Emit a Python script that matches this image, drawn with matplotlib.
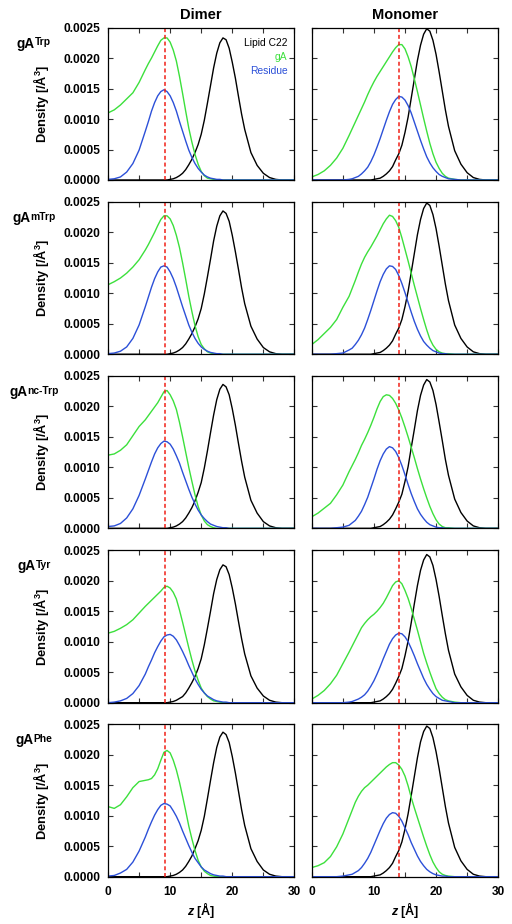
import matplotlib
matplotlib.use("Agg")
import matplotlib.pyplot as plt
from matplotlib.ticker import MultipleLocator, FuncFormatter

plt.rcParams['font.family'] = ['Liberation Sans', 'DejaVu Sans']
plt.rcParams['font.weight'] = 'bold'
plt.rcParams['axes.labelweight'] = 'bold'
plt.rcParams['mathtext.fontset'] = 'custom'
plt.rcParams['mathtext.rm'] = 'Liberation Sans:bold'
plt.rcParams['mathtext.bf'] = 'Liberation Sans:bold'
plt.rcParams['mathtext.it'] = 'Liberation Sans:italic:bold'

# z grid in Angstrom (finer where the peaks are)
z = [0, 1, 2, 3, 4, 5, 6,
     6.5, 7, 7.5, 8, 8.5, 9, 9.5, 10, 10.5, 11, 11.5, 12, 12.5, 13, 13.5, 14,
     14.5, 15, 15.5, 16, 16.5, 17, 17.5, 18, 18.5, 19, 19.5, 20, 20.5, 21, 21.5, 22,
     23, 24, 25, 26, 27, 28, 29, 30]

variants = ['Trp', 'mTrp', 'nc-Trp', 'Tyr', 'Phe']
dimer_cut = 9.2
monomer_cut = 14.1

# ---- Dimer: lipid C22 density
trp_dim_lipid = [0, 0, 0, 0, 0, 0, 0,
                 0, 0, 0, 0, 0, 0, 0, 0.00001, 0.00002, 0.00004, 0.00007, 0.00011, 0.00017, 0.00025, 0.00034, 0.00045,
                 0.00058, 0.00075, 0.00098, 0.00126, 0.00155, 0.00184, 0.00208, 0.00225, 0.00233, 0.00230, 0.00216, 0.00193, 0.00167, 0.00137, 0.00108, 0.00083,
                 0.00045, 0.00024, 0.00011, 0.00004, 0.00001, 0, 0, 0]
mtrp_dim_lipid = [0, 0, 0, 0, 0, 0, 0,
                  0, 0, 0, 0, 0, 0, 0, 0.00001, 0.00002, 0.00004, 0.00007, 0.00011, 0.00017, 0.00025, 0.00034, 0.00045,
                  0.00058, 0.00075, 0.00099, 0.00127, 0.00156, 0.00186, 0.00210, 0.00227, 0.00235, 0.00231, 0.00218, 0.00195, 0.00168, 0.00139, 0.00109, 0.00083,
                  0.00046, 0.00025, 0.00011, 0.00004, 0.00001, 0, 0, 0]
nctrp_dim_lipid = [0, 0, 0, 0, 0, 0, 0,
                   0, 0, 0, 0, 0, 0, 0, 0.00001, 0.00002, 0.00004, 0.00007, 0.00011, 0.00017, 0.00025, 0.00034, 0.00045,
                   0.00059, 0.00075, 0.00099, 0.00127, 0.00157, 0.00186, 0.00211, 0.00228, 0.00236, 0.00232, 0.00219, 0.00196, 0.00169, 0.00139, 0.00110, 0.00084,
                   0.00046, 0.00025, 0.00011, 0.00004, 0.00001, 0, 0, 0]
tyr_dim_lipid = [0, 0, 0, 0, 0, 0, 0,
                 0, 0, 0, 0, 0, 0, 0, 0.00001, 0.00002, 0.00004, 0.00007, 0.00010, 0.00016, 0.00024, 0.00033, 0.00043,
                 0.00056, 0.00072, 0.00095, 0.00122, 0.00150, 0.00179, 0.00202, 0.00218, 0.00226, 0.00223, 0.00210, 0.00188, 0.00162, 0.00133, 0.00105, 0.00080,
                 0.00044, 0.00024, 0.00011, 0.00004, 0.00001, 0, 0, 0]
phe_dim_lipid = [0, 0, 0, 0, 0, 0, 0,
                 0, 0, 0, 0, 0, 0, 0, 0.00001, 0.00002, 0.00004, 0.00007, 0.00011, 0.00017, 0.00025, 0.00034, 0.00046,
                 0.00059, 0.00076, 0.00099, 0.00128, 0.00158, 0.00187, 0.00212, 0.00229, 0.00237, 0.00233, 0.00220, 0.00197, 0.00170, 0.00140, 0.00110, 0.00084,
                 0.00046, 0.00025, 0.00011, 0.00004, 0.00001, 0, 0, 0]

# ---- Dimer: gA density
trp_dim_ga = [0.00110, 0.00115, 0.00123, 0.00133, 0.00143, 0.00160, 0.00181,
              0.00191, 0.00200, 0.00210, 0.00220, 0.00229, 0.00233, 0.00233, 0.00226, 0.00213, 0.00195, 0.00170, 0.00142, 0.00113, 0.00085, 0.00062, 0.00042,
              0.00026, 0.00014, 0.00007, 0.00003, 0.00002, 0.00001, 0, 0, 0, 0, 0, 0, 0, 0, 0, 0,
              0, 0, 0, 0, 0, 0, 0, 0]
mtrp_dim_ga = [0.00114, 0.00119, 0.00125, 0.00133, 0.00143, 0.00155, 0.00171,
               0.00180, 0.00190, 0.00200, 0.00211, 0.00221, 0.00227, 0.00227, 0.00222, 0.00211, 0.00195, 0.00175, 0.00150, 0.00123, 0.00095, 0.00070, 0.00047,
               0.00029, 0.00016, 0.00009, 0.00004, 0.00002, 0.00001, 0, 0, 0, 0, 0, 0, 0, 0, 0, 0,
               0, 0, 0, 0, 0, 0, 0, 0]
nctrp_dim_ga = [0.00120, 0.00122, 0.00128, 0.00137, 0.00152, 0.00167, 0.00178,
                0.00185, 0.00192, 0.00199, 0.00206, 0.00215, 0.00224, 0.00226, 0.00219, 0.00209, 0.00195, 0.00174, 0.00150, 0.00125, 0.00100, 0.00077, 0.00055,
                0.00036, 0.00022, 0.00012, 0.00006, 0.00003, 0.00001, 0, 0, 0, 0, 0, 0, 0, 0, 0, 0,
                0, 0, 0, 0, 0, 0, 0, 0]
tyr_dim_ga = [0.00114, 0.00117, 0.00122, 0.00128, 0.00136, 0.00147, 0.00158,
              0.00163, 0.00168, 0.00173, 0.00178, 0.00183, 0.00189, 0.00191, 0.00188, 0.00181, 0.00170, 0.00152, 0.00132, 0.00111, 0.00090, 0.00070, 0.00052,
              0.00037, 0.00024, 0.00016, 0.00010, 0.00006, 0.00003, 0.00002, 0.00001, 0, 0, 0, 0, 0, 0, 0, 0,
              0, 0, 0, 0, 0, 0, 0, 0]
phe_dim_ga = [0.00115, 0.00112, 0.00118, 0.00131, 0.00146, 0.00156, 0.00158,
              0.00159, 0.00161, 0.00167, 0.00177, 0.00191, 0.00204, 0.00207, 0.00203, 0.00191, 0.00175, 0.00155, 0.00132, 0.00108, 0.00083, 0.00062, 0.00043,
              0.00027, 0.00016, 0.00009, 0.00005, 0.00002, 0.00001, 0, 0, 0, 0, 0, 0, 0, 0, 0, 0,
              0, 0, 0, 0, 0, 0, 0, 0]

# ---- Dimer: residue density
trp_dim_res = [0.00001, 0.00002, 0.00005, 0.00013, 0.00027, 0.00049, 0.00080,
               0.00096, 0.00113, 0.00127, 0.00138, 0.00145, 0.00148, 0.00145, 0.00138, 0.00127, 0.00113, 0.00096, 0.00080, 0.00064, 0.00049, 0.00037, 0.00027,
               0.00019, 0.00013, 0.00008, 0.00005, 0.00003, 0.00002, 0.00001, 0.00001, 0, 0, 0, 0, 0, 0, 0, 0,
               0, 0, 0, 0, 0, 0, 0, 0]
mtrp_dim_res = [0.00001, 0.00002, 0.00005, 0.00012, 0.00026, 0.00048, 0.00078,
                0.00094, 0.00110, 0.00124, 0.00135, 0.00143, 0.00145, 0.00143, 0.00135, 0.00124, 0.00110, 0.00094, 0.00078, 0.00063, 0.00048, 0.00036, 0.00026,
                0.00018, 0.00012, 0.00008, 0.00005, 0.00003, 0.00002, 0.00001, 0.00001, 0, 0, 0, 0, 0, 0, 0, 0,
                0, 0, 0, 0, 0, 0, 0, 0]
nctrp_dim_res = [0.00003, 0.00004, 0.00008, 0.00017, 0.00032, 0.00054, 0.00081,
                 0.00095, 0.00109, 0.00122, 0.00132, 0.00139, 0.00143, 0.00142, 0.00138, 0.00130, 0.00119, 0.00107, 0.00092, 0.00078, 0.00064, 0.00051, 0.00040,
                 0.00030, 0.00022, 0.00016, 0.00011, 0.00007, 0.00005, 0.00003, 0.00002, 0.00001, 0.00001, 0, 0, 0, 0, 0, 0,
                 0, 0, 0, 0, 0, 0, 0, 0]
tyr_dim_res = [0, 0.00001, 0.00003, 0.00007, 0.00015, 0.00028, 0.00047,
               0.00059, 0.00070, 0.00082, 0.00092, 0.00101, 0.00108, 0.00111, 0.00112, 0.00109, 0.00103, 0.00094, 0.00084, 0.00073, 0.00061, 0.00050, 0.00039,
               0.00030, 0.00022, 0.00016, 0.00011, 0.00008, 0.00005, 0.00003, 0.00002, 0.00001, 0.00001, 0, 0, 0, 0, 0, 0,
               0, 0, 0, 0, 0, 0, 0, 0]
phe_dim_res = [0.00001, 0.00002, 0.00006, 0.00012, 0.00024, 0.00042, 0.00065,
               0.00078, 0.00090, 0.00101, 0.00110, 0.00117, 0.00120, 0.00119, 0.00116, 0.00108, 0.00099, 0.00088, 0.00075, 0.00063, 0.00051, 0.00040, 0.00030,
               0.00023, 0.00016, 0.00011, 0.00008, 0.00005, 0.00003, 0.00002, 0.00001, 0.00001, 0, 0, 0, 0, 0, 0, 0,
               0, 0, 0, 0, 0, 0, 0, 0]

# ---- Monomer: lipid C22 density
trp_mon_lipid = [0, 0, 0, 0, 0, 0, 0,
                 0, 0, 0, 0, 0, 0, 0, 0.00001, 0.00002, 0.00003, 0.00006, 0.00010, 0.00015, 0.00022, 0.00033, 0.00043,
                 0.00057, 0.00078, 0.00103, 0.00134, 0.00165, 0.00196, 0.00221, 0.00239, 0.00248, 0.00244, 0.00229, 0.00206, 0.00177, 0.00146, 0.00115, 0.00088,
                 0.00048, 0.00026, 0.00012, 0.00004, 0.00001, 0, 0, 0]
mtrp_mon_lipid = [0, 0, 0, 0, 0, 0, 0,
                  0, 0, 0, 0, 0, 0, 0, 0.00001, 0.00002, 0.00003, 0.00006, 0.00010, 0.00015, 0.00022, 0.00033, 0.00043,
                  0.00057, 0.00078, 0.00103, 0.00134, 0.00165, 0.00196, 0.00221, 0.00239, 0.00248, 0.00244, 0.00229, 0.00206, 0.00177, 0.00146, 0.00115, 0.00088,
                  0.00048, 0.00026, 0.00012, 0.00004, 0.00001, 0, 0, 0]
nctrp_mon_lipid = [0, 0, 0, 0, 0, 0, 0,
                   0, 0, 0, 0, 0, 0, 0, 0.00001, 0.00002, 0.00003, 0.00006, 0.00010, 0.00015, 0.00022, 0.00032, 0.00043,
                   0.00056, 0.00077, 0.00101, 0.00132, 0.00162, 0.00193, 0.00218, 0.00235, 0.00244, 0.00240, 0.00226, 0.00203, 0.00174, 0.00144, 0.00113, 0.00087,
                   0.00048, 0.00026, 0.00012, 0.00004, 0.00001, 0, 0, 0]
tyr_mon_lipid = [0, 0, 0, 0, 0, 0, 0,
                 0, 0, 0, 0, 0, 0, 0, 0.00001, 0.00002, 0.00003, 0.00006, 0.00010, 0.00015, 0.00022, 0.00032, 0.00043,
                 0.00056, 0.00077, 0.00101, 0.00131, 0.00162, 0.00192, 0.00217, 0.00234, 0.00243, 0.00239, 0.00225, 0.00202, 0.00174, 0.00143, 0.00113, 0.00086,
                 0.00047, 0.00026, 0.00012, 0.00004, 0.00001, 0, 0, 0]
phe_mon_lipid = [0, 0, 0, 0, 0, 0, 0,
                 0, 0, 0, 0, 0, 0, 0, 0.00001, 0.00002, 0.00003, 0.00006, 0.00010, 0.00015, 0.00022, 0.00033, 0.00043,
                 0.00057, 0.00078, 0.00103, 0.00133, 0.00164, 0.00195, 0.00221, 0.00238, 0.00247, 0.00243, 0.00228, 0.00205, 0.00177, 0.00146, 0.00115, 0.00088,
                 0.00048, 0.00026, 0.00012, 0.00004, 0.00001, 0, 0, 0]

# ---- Monomer: gA density
trp_mon_ga = [0.00005, 0.00009, 0.00015, 0.00024, 0.00036, 0.00052, 0.00073,
              0.00084, 0.00095, 0.00106, 0.00117, 0.00128, 0.00140, 0.00151, 0.00161, 0.00170, 0.00178, 0.00186, 0.00194, 0.00202, 0.00210, 0.00217, 0.00222,
              0.00222, 0.00215, 0.00202, 0.00186, 0.00166, 0.00145, 0.00123, 0.00101, 0.00080, 0.00060, 0.00043, 0.00029, 0.00019, 0.00011, 0.00006, 0.00003,
              0.00001, 0, 0, 0, 0, 0, 0, 0]
mtrp_mon_ga = [0.00016, 0.00024, 0.00034, 0.00044, 0.00057, 0.00077, 0.00095,
               0.00108, 0.00121, 0.00135, 0.00148, 0.00159, 0.00168, 0.00176, 0.00185, 0.00194, 0.00204, 0.00214, 0.00222, 0.00228, 0.00226, 0.00219, 0.00208,
               0.00191, 0.00172, 0.00153, 0.00133, 0.00113, 0.00094, 0.00075, 0.00057, 0.00040, 0.00025, 0.00015, 0.00008, 0.00004, 0.00002, 0.00001, 0.00001,
               0, 0, 0, 0, 0, 0, 0, 0]
nctrp_mon_ga = [0.00019, 0.00025, 0.00033, 0.00041, 0.00055, 0.00071, 0.00093,
                0.00103, 0.00113, 0.00124, 0.00136, 0.00146, 0.00157, 0.00169, 0.00182, 0.00196, 0.00208, 0.00216, 0.00219, 0.00218, 0.00213, 0.00205, 0.00194,
                0.00181, 0.00166, 0.00150, 0.00133, 0.00116, 0.00098, 0.00081, 0.00065, 0.00050, 0.00036, 0.00024, 0.00014, 0.00007, 0.00003, 0.00001, 0.00001,
                0, 0, 0, 0, 0, 0, 0, 0]
tyr_mon_ga = [0.00006, 0.00012, 0.00020, 0.00031, 0.00045, 0.00064, 0.00083,
              0.00093, 0.00103, 0.00113, 0.00123, 0.00130, 0.00136, 0.00141, 0.00145, 0.00150, 0.00156, 0.00163, 0.00172, 0.00182, 0.00192, 0.00198, 0.00200,
              0.00195, 0.00184, 0.00171, 0.00155, 0.00137, 0.00119, 0.00100, 0.00081, 0.00065, 0.00050, 0.00036, 0.00023, 0.00015, 0.00009, 0.00005, 0.00003,
              0.00001, 0, 0, 0, 0, 0, 0, 0]
phe_mon_ga = [0.00015, 0.00018, 0.00023, 0.00033, 0.00049, 0.00070, 0.00096,
              0.00109, 0.00122, 0.00132, 0.00140, 0.00146, 0.00150, 0.00155, 0.00160, 0.00165, 0.00170, 0.00175, 0.00180, 0.00184, 0.00187, 0.00187, 0.00183,
              0.00176, 0.00165, 0.00149, 0.00130, 0.00113, 0.00097, 0.00081, 0.00065, 0.00050, 0.00036, 0.00024, 0.00015, 0.00008, 0.00004, 0.00002, 0.00001,
              0, 0, 0, 0, 0, 0, 0, 0]

# ---- Monomer: residue density
trp_mon_res = [0, 0, 0, 0, 0, 0, 0.00001,
               0.00002, 0.00004, 0.00006, 0.00010, 0.00015, 0.00021, 0.00030, 0.00041, 0.00054, 0.00068, 0.00083, 0.00098, 0.00112, 0.00124, 0.00132, 0.00137,
               0.00136, 0.00131, 0.00122, 0.00110, 0.00095, 0.00080, 0.00065, 0.00051, 0.00038, 0.00028, 0.00020, 0.00014, 0.00009, 0.00006, 0.00004, 0.00002,
               0.00001, 0, 0, 0, 0, 0, 0, 0]
mtrp_mon_res = [0, 0, 0, 0, 0.00001, 0.00002, 0.00007,
                0.00010, 0.00016, 0.00023, 0.00032, 0.00043, 0.00057, 0.00072, 0.00088, 0.00104, 0.00119, 0.00131, 0.00140, 0.00145, 0.00144, 0.00139, 0.00129,
                0.00116, 0.00101, 0.00085, 0.00069, 0.00054, 0.00041, 0.00030, 0.00021, 0.00015, 0.00010, 0.00006, 0.00004, 0.00002, 0.00001, 0.00001, 0,
                0, 0, 0, 0, 0, 0, 0, 0]
nctrp_mon_res = [0, 0, 0, 0, 0.00001, 0.00002, 0.00005,
                 0.00009, 0.00013, 0.00020, 0.00028, 0.00039, 0.00051, 0.00066, 0.00081, 0.00097, 0.00111, 0.00122, 0.00130, 0.00134, 0.00132, 0.00126, 0.00116,
                 0.00103, 0.00088, 0.00072, 0.00057, 0.00044, 0.00032, 0.00023, 0.00016, 0.00010, 0.00006, 0.00004, 0.00002, 0.00001, 0.00001, 0, 0,
                 0, 0, 0, 0, 0, 0, 0, 0]
tyr_mon_res = [0, 0, 0, 0, 0, 0, 0.00001,
               0.00002, 0.00004, 0.00006, 0.00009, 0.00013, 0.00019, 0.00027, 0.00036, 0.00047, 0.00059, 0.00072, 0.00084, 0.00096, 0.00105, 0.00111, 0.00114,
               0.00113, 0.00108, 0.00100, 0.00089, 0.00077, 0.00064, 0.00052, 0.00040, 0.00030, 0.00022, 0.00015, 0.00010, 0.00007, 0.00004, 0.00003, 0.00002,
               0, 0, 0, 0, 0, 0, 0, 0]
phe_mon_res = [0, 0, 0, 0, 0, 0.00001, 0.00003,
               0.00004, 0.00007, 0.00010, 0.00015, 0.00022, 0.00030, 0.00040, 0.00052, 0.00064, 0.00076, 0.00087, 0.00096, 0.00102, 0.00105, 0.00104, 0.00099,
               0.00091, 0.00080, 0.00069, 0.00056, 0.00045, 0.00034, 0.00025, 0.00018, 0.00012, 0.00008, 0.00005, 0.00003, 0.00002, 0.00001, 0.00001, 0,
               0, 0, 0, 0, 0, 0, 0, 0]

dimer = [(trp_dim_lipid, trp_dim_ga, trp_dim_res),
         (mtrp_dim_lipid, mtrp_dim_ga, mtrp_dim_res),
         (nctrp_dim_lipid, nctrp_dim_ga, nctrp_dim_res),
         (tyr_dim_lipid, tyr_dim_ga, tyr_dim_res),
         (phe_dim_lipid, phe_dim_ga, phe_dim_res)]
monomer = [(trp_mon_lipid, trp_mon_ga, trp_mon_res),
           (mtrp_mon_lipid, mtrp_mon_ga, mtrp_mon_res),
           (nctrp_mon_lipid, nctrp_mon_ga, nctrp_mon_res),
           (tyr_mon_lipid, tyr_mon_ga, tyr_mon_res),
           (phe_mon_lipid, phe_mon_ga, phe_mon_res)]

GREEN = '#3ce03c'
BLUE = '#2c50d8'
RED = '#f02018'

W, H = 512, 924
fig = plt.figure(figsize=(W / 100, H / 100), dpi=100)

bottoms = [0.8052, 0.6166, 0.4282, 0.2395, 0.0512]
height = 0.165
lefts = [0.211, 0.609]
width = 0.364

xfmt = FuncFormatter(lambda v, p: '%d' % v if v % 10 == 0 else '')
yfmt = FuncFormatter(lambda v, p: '%.4f' % v)

for i in range(5):
    for j, (data, cut) in enumerate([(dimer, dimer_cut), (monomer, monomer_cut)]):
        lipid, ga, res = data[i]
        ax = fig.add_axes([lefts[j], bottoms[i], width, height])
        ax.plot(z, lipid, color='black', lw=1.0)
        ax.plot(z, ga, color=GREEN, lw=1.0)
        ax.plot(z, res, color=BLUE, lw=1.0)
        ax.axvline(cut, color=RED, lw=1.1, ls=(0, (2.6, 1.8)))
        ax.set_xlim(0, 30)
        ax.set_ylim(0, 0.0025)
        ax.xaxis.set_major_locator(MultipleLocator(5))
        ax.yaxis.set_major_locator(MultipleLocator(0.0005))
        ax.xaxis.set_major_formatter(xfmt)
        ax.yaxis.set_major_formatter(yfmt)
        ax.tick_params(direction='in', top=True, right=True, length=3.5, width=0.8,
                       labelsize=8.6, color='#333333')
        ax.tick_params(axis='y', pad=5.5)
        ax.tick_params(axis='x', pad=7)
        for s in ax.spines.values():
            s.set_linewidth(0.9)
        if j == 1:
            ax.tick_params(labelleft=False)
        else:
            ax.set_ylabel(r'Density [/Å$^{\mathbf{3}}$]', fontsize=9.3, fontweight='bold')
            ax.yaxis.set_label_coords(-0.305, 0.5)
        if i < 4:
            ax.tick_params(labelbottom=False)
        else:
            ax.set_xlabel(r'$z$ [Å]', fontsize=9, fontweight='bold', labelpad=1)
        if i == 0 and j == 0:
            for txt, col, yy in [('Lipid C22', 'black', 0.897), ('gA', GREEN, 0.805),
                                 ('Residue', BLUE, 0.718)]:
                ax.text(0.962, yy, txt, color=col, transform=ax.transAxes, ha='right',
                        va='center', fontsize=7.4, fontweight='normal')

# column titles
fig.text(lefts[0] + width / 2, 1 - 15 / H, 'Dimer', ha='center', va='center', fontsize=10.5)
fig.text(lefts[1] + width / 2, 1 - 15 / H, 'Monomer', ha='center', va='center', fontsize=10.5)

# row labels gA^X, centred as one block
fig.canvas.draw()
r = fig.canvas.get_renderer()
for i, name in enumerate(variants):
    top_px = H * (1 - bottoms[i] - height)
    yb = 1 - (top_px + 20) / H
    t1 = fig.text(0, yb, 'gA', fontsize=9.8, va='baseline')
    t2 = fig.text(0, yb + 2.2 / H, name, fontsize=7.4, va='baseline')
    w1 = t1.get_window_extent(r).width / W
    w2 = t2.get_window_extent(r).width / W
    x0 = 34 / W - (w1 + w2) / 2
    t1.set_x(x0)
    t2.set_x(x0 + w1)

fig.savefig('out.png', dpi=100)
